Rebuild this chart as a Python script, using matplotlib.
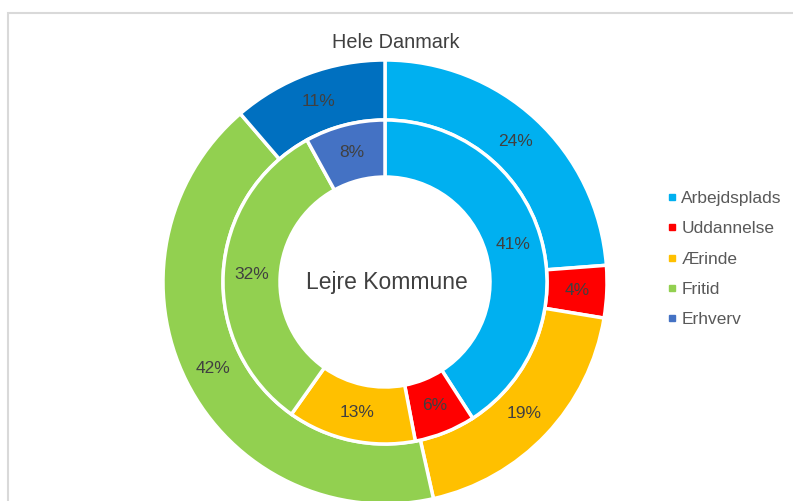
import matplotlib.pyplot as plt
from matplotlib.patches import Rectangle

plt.rcParams['font.family'] = ['Liberation Sans', 'DejaVu Sans']

# Data (shares; labels shown rounded)
categories = ['Arbejdsplads', 'Uddannelse', 'Ærinde', 'Fritid', 'Erhverv']
hele_danmark = [23.8, 3.8, 18.9, 42.2, 11.3]
lejre_kommune = [40.9, 6.1, 12.8, 32.2, 8.0]
outer_colors = ['#00B0F0', '#FF0000', '#FFC000', '#92D050', '#0070C0']
inner_colors = ['#00B0F0', '#FF0000', '#FFC000', '#92D050', '#4472C4']

W, H = 793, 501
fig = plt.figure(figsize=(W / 100, H / 100), dpi=100)
ax = fig.add_axes([0, 0, 1, 1])

cx, cy = 385, H - 282
r_out, r_mid, r_in = 222, 162, 105
txt = '#404040'

wedges_out, _, pct_out = ax.pie(
    hele_danmark, colors=outer_colors, radius=r_out, center=(cx, cy),
    startangle=90, counterclock=False,
    autopct=lambda p: f'{p:.0f}%', pctdistance=192 / r_out,
    wedgeprops=dict(width=r_out - r_mid, edgecolor='white', linewidth=2.5),
    textprops=dict(color=txt, fontsize=12.5))

wedges_in, _, pct_in = ax.pie(
    lejre_kommune, colors=inner_colors, radius=r_mid, center=(cx, cy),
    startangle=90, counterclock=False,
    autopct=lambda p: f'{p:.0f}%', pctdistance=133.5 / r_mid,
    wedgeprops=dict(width=r_mid - r_in, edgecolor='white', linewidth=2.5),
    textprops=dict(color=txt, fontsize=12.5))

ax.set_xlim(0, W)
ax.set_ylim(0, H)
ax.set_aspect('equal')
ax.axis('off')

ax.text(396, H - 42, 'Hele Danmark', ha='center', va='center', fontsize=14.3, color=txt)
ax.text(387, H - 283, 'Lejre Kommune', ha='center', va='center', fontsize=16.5, color=txt)

# Legend
handles = [plt.Line2D([], [], marker='s', linestyle='', markersize=5,
                      color=c) for c in inner_colors]
leg = fig.legend(handles, categories, loc='upper left',
                 bbox_to_anchor=(651 / W, 1 - 175 / H), frameon=False,
                 fontsize=12.5, labelcolor='#595959', handlelength=0.6,
                 handletextpad=0.25, labelspacing=0.88)

# Chart border
fig.add_artist(Rectangle((8 / W, -0.1), 1.2, 1.1 - 13 / H, transform=fig.transFigure,
                         fill=False, edgecolor='#D9D9D9', linewidth=1.5))

fig.savefig('out.png', dpi=100)
